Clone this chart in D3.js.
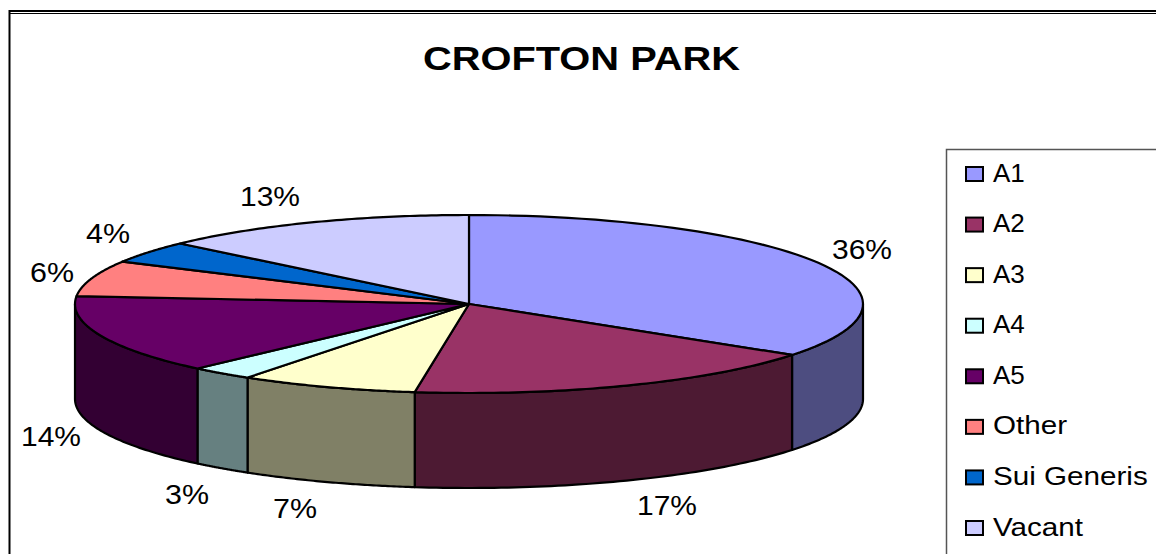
<!DOCTYPE html>
<html><head><meta charset="utf-8">
<script src="https://cdn.jsdelivr.net/npm/d3@7"></script>
<style>html,body{margin:0;padding:0;background:#fff}svg{display:block}text{font-family:"Liberation Sans",Arial,sans-serif;fill:#000}</style>
</head><body><svg id="c" width="1156" height="554"></svg>
<script>
const titleText = "CROFTON PARK";
const categories = ["A1","A2","A3","A4","A5","Other","Sui Generis","Vacant"];
const sliceShares = [34.7,17.5,7.3,2.6,14.3,6.5,4.0,13.1];
const percentLabels = ["36%","17%","7%","3%","14%","6%","4%","13%"];
const topColors = ["#9999FF","#993366","#FFFFCC","#CCFFFF","#660066","#FF8080","#0066CC","#CCCCFF"];
const sideColors = ["#4D4D80","#4D1A33","#808066","#668080","#330033"];
const labelAnchors = [[862,259],[667,515],[295,518],[187,504],[51,446],[52,282],[108,243],[270,206]];

const W=1156,H=554;
const svg=d3.select("#c");
const cx=469,cy=304,rx=394,ry=89,depth=95;
const xS=d3.scaleLinear().domain([-1,1]).range([cx-rx,cx+rx]);
const yS=d3.scaleLinear().domain([-1,1]).range([cy-ry,cy+ry]);
const arcs=d3.pie().sort(null).value(d=>d).startAngle(0).endAngle(2*Math.PI)(sliceShares);
const pt=(a,dy=0)=>[xS(Math.sin(a)),yS(-Math.cos(a))+dy];
const samples=(a0,a1,dy=0)=>d3.range(0,61).map(i=>pt(a0+(a1-a0)*i/60,dy));
const line=d3.line();

// frame
svg.append("path").attr("d","M9.5 554V11H1156").attr("fill","none").attr("stroke","#000").attr("stroke-width",2);
svg.append("path").attr("d","M10 13.5H1156").attr("fill","none").attr("stroke","#000").attr("stroke-width",1);

svg.append("text").attr("x",581.5).attr("y",69.5).attr("text-anchor","middle")
  .attr("font-size",34).attr("font-weight","bold").attr("textLength",317).attr("lengthAdjust","spacingAndGlyphs").text(titleText);

// side walls (visible front half only)
const g=svg.append("g").attr("stroke","#000").attr("stroke-width",2.2).attr("stroke-linejoin","round");
arcs.forEach((d,i)=>{
  const a0=Math.max(d.startAngle,Math.PI/2), a1=Math.min(d.endAngle,3*Math.PI/2);
  if(a1<=a0) return;
  const pts=samples(a0,a1,0).concat(samples(a1,a0,depth));
  g.append("path").attr("d",line(pts)+"Z").attr("fill",sideColors[i]);
});
// top slices
arcs.forEach((d,i)=>{
  const pts=[[cx,cy]].concat(samples(d.startAngle,d.endAngle));
  g.append("path").attr("d",line(pts)+"Z").attr("fill",topColors[i]);
});

// pie labels
svg.append("g").selectAll("text").data(percentLabels).join("text")
  .attr("x",(d,i)=>labelAnchors[i][0]).attr("y",(d,i)=>labelAnchors[i][1])
  .attr("text-anchor","middle").attr("font-size",28.5)
  .each(function(d){ d3.select(this).attr("textLength",d.length===3?60:44).attr("lengthAdjust","spacingAndGlyphs"); })
  .text(d=>d);

// legend
svg.append("path").attr("d","M946.5 554V149.5H1156").attr("fill","none").attr("stroke","#555").attr("stroke-width",1.5);
const yL=d3.scalePoint().domain(categories).range([174,528]);
const lg=svg.append("g").selectAll("g").data(categories).join("g").attr("transform",d=>`translate(0,${yL(d)})`);
lg.append("rect").attr("x",966).attr("y",-7).attr("width",17).attr("height",14)
  .attr("fill",(d,i)=>topColors[i]).attr("stroke","#000").attr("stroke-width",2);
lg.append("text").attr("x",993).attr("y",7.5).attr("font-size",26).text(d=>d)
  .attr("transform",d=>`translate(993,0) scale(${d.length<=2?1:1.14},1) translate(-993,0)`);
</script></body></html>
